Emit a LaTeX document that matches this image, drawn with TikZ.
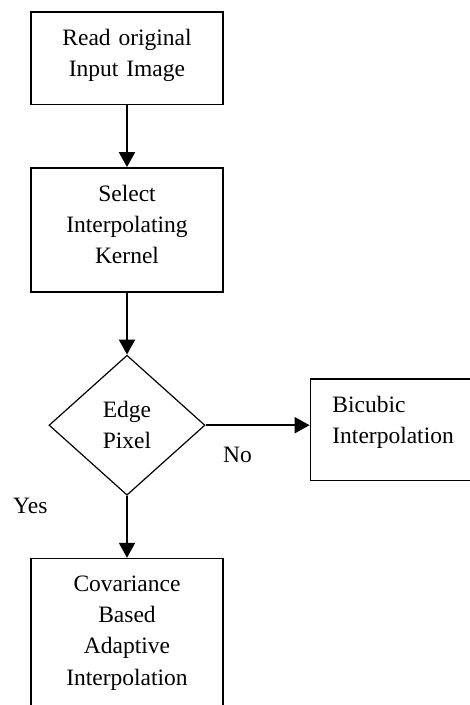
\documentclass[tikz,border=0pt]{standalone}
\usepackage{fontspec}
\setmainfont{Liberation Serif}
\usetikzlibrary{arrows.meta,positioning,shapes.geometric}

\newcommand{\lastline}[1][11pt]{\rule[-#1]{0pt}{0pt}}

\begin{document}
\begin{tikzpicture}[x=1pt, y=1pt,
      process/.style={
        draw, line width=1.6pt, align=center, text width=170pt,
        inner xsep=11pt, inner ysep=17pt,
        font=\fontsize{23.5}{31.3}\selectfont
      },
      result/.style={
        draw, line width=1.6pt, align=left, text width=170pt,
        inner xsep=22pt, inner ysep=17pt,
        font=\fontsize{23.5}{31.3}\selectfont
      },
      decision/.style={
        draw, diamond, line width=1.2pt, align=left, inner sep=0pt,
        minimum width=156pt, minimum height=140pt,
        font=\fontsize{23.5}{31.3}\selectfont
      },
      answer/.style={font=\fontsize{23.5}{28}\selectfont, inner sep=0pt, anchor=base west},
      flow/.style={-{Triangle[width=16pt,length=15pt]}, line width=2pt},
      node distance=62pt
    ]
    \useasboundingbox (0,0) rectangle (470,-705);
    \clip (0,0) rectangle (470,-705);

    \node[process] (read) at (127,-58) {Read original\\Input Image\lastline};
    \node[process, below=of read] (select) {Select\\Interpolating\\Kernel\lastline};
    \node[decision, below=of select] (edge) {Edge\\Pixel};
    \node[result, right=104pt of edge, yshift=-4.5pt] (bicubic) {Bicubic\\Interpolation\lastline[19.7pt]};
    \node[process, below=of edge] (adaptive) {Covariance\\Based\\Adaptive\\Interpolation\lastline};

    \node[answer] (no) at (223,-462) {No};
    \node[answer] (yes) at (13,-513) {Yes};

    \draw[flow] (read) -- (select);
    \draw[flow] (select) -- (edge);
    \draw[flow] (edge.east) -- (edge.east -| bicubic.west);
    \draw[flow] (edge) -- (adaptive);
  \end{tikzpicture}
\end{document}
